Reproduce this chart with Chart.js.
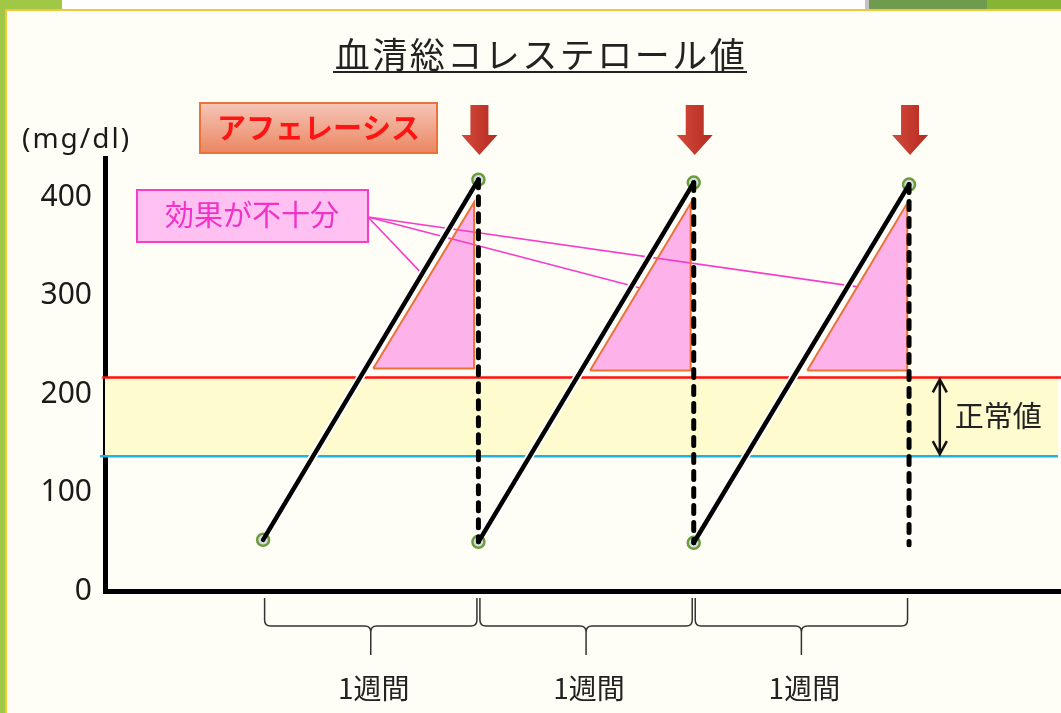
<!DOCTYPE html>
<html>
<head>
<meta charset="utf-8">
<script src="https://cdn.jsdelivr.net/npm/chart.js@4.4.1/dist/chart.umd.min.js"></script>
<style>
  html, body { margin: 0; padding: 0; background: #fefef6; overflow: hidden; }
  #wrap { width: 1061px; height: 713px; position: relative; }
</style>
</head>
<body>
<div id="wrap"><canvas id="c" width="1061" height="713"></canvas></div>
<script>
// Serum total cholesterol (mg/dl) across three weekly apheresis cycles
const weekDays = [0, 7, 14, 21];            // apheresis days
const troughValues = [52, 50, 49, 47];      // value right after each apheresis
const peakValues = [418, 415, 413];         // value just before the next apheresis
const yTicks = [0, 100, 200, 300, 400];
const normalUpper = 217;                    // upper limit of the normal range
const normalLower = 137;                    // lower limit of the normal range
// "insufficient effect" triangles (day / mg/dl)
const gapLeft = [3.58, 10.63, 17.69];
const gapRight = [6.86, 13.9, 20.94];
const gapBottom = [226, 224, 224];
const gapTop = [395, 394, 394];
const calloutTargets = [[5.27, 319], [12.26, 308], [19.34, 309]];
const weekLabels = ['1週間', '1週間', '1週間'];
const rangeArrowDay = 22;

const X_MIN = -5.14, X_MAX = 25.94;

// rising segments, separated by gaps
const riseData = [];
for (let i = 0; i < peakValues.length; i++) {
  if (i) riseData.push({ x: weekDays[i], y: null });
  riseData.push({ x: weekDays[i], y: troughValues[i] }, { x: weekDays[i + 1], y: peakValues[i] });
}
// drops at each apheresis
const dropData = [];
for (let i = 0; i < peakValues.length; i++) {
  if (i) dropData.push({ x: weekDays[i + 1], y: null });
  dropData.push({ x: weekDays[i + 1], y: peakValues[i] }, { x: weekDays[i + 1], y: troughValues[i + 1] });
}
// measured points
const markerData = [];
for (let i = 0; i < peakValues.length; i++) {
  markerData.push({ x: weekDays[i], y: troughValues[i] }, { x: weekDays[i + 1], y: peakValues[i] });
}

const triangleSets = gapLeft.map((l, i) => ({
  data: [
    { x: l, y: gapBottom[i] }, { x: gapRight[i], y: gapBottom[i] },
    { x: gapRight[i], y: gapTop[i] }, { x: l, y: gapBottom[i] }
  ],
  borderColor: '#ea7235', borderWidth: 2, backgroundColor: '#fdb3e9',
  fill: 'shape', pointRadius: 0, tension: 0, order: 8
}));

const CJK = "'Noto Sans CJK JP', 'Noto Sans', sans-serif";

function brace(ctx, x1, x2, top) {
  const mid = (x1 + x2) / 2, yH = top + 28, yTip = top + 57, r = 6;
  ctx.beginPath();
  ctx.moveTo(x1, top);
  ctx.lineTo(x1, yH - r);
  ctx.quadraticCurveTo(x1, yH, x1 + r, yH);
  ctx.lineTo(mid - r, yH);
  ctx.quadraticCurveTo(mid, yH, mid, yH + r);
  ctx.lineTo(mid, yTip);
  ctx.moveTo(mid, yH + r);
  ctx.quadraticCurveTo(mid, yH, mid + r, yH);
  ctx.lineTo(x2 - r, yH);
  ctx.quadraticCurveTo(x2, yH, x2, yH - r);
  ctx.lineTo(x2, top);
  ctx.stroke();
}

const decor = {
  id: 'decor',
  beforeDraw(chart) {
    const ctx = chart.ctx, W = chart.width, H = chart.height;
    ctx.save();
    ctx.fillStyle = '#fefef6'; ctx.fillRect(0, 0, W, H);
    ctx.fillStyle = '#a1c746'; ctx.fillRect(0, 0, 62, 10);
    ctx.fillStyle = '#ffffff'; ctx.fillRect(62, 0, 803, 10);
    ctx.fillStyle = '#c4c4c4'; ctx.fillRect(865, 0, 4, 10);
    ctx.fillStyle = '#6f9b4e'; ctx.fillRect(869, 0, 118, 10);
    ctx.fillStyle = '#86b434'; ctx.fillRect(987, 0, 74, 10);
    ctx.fillStyle = '#a1c746'; ctx.fillRect(0, 0, 5, H);
    ctx.fillStyle = '#f4c63a';
    ctx.fillRect(5, 9, W - 5, 2);
    ctx.fillRect(5, 9, 2, H - 9);
    ctx.restore();
  },
  beforeDatasetsDraw(chart) {
    // callout leader lines
    const ctx = chart.ctx, xs = chart.scales.x, ys = chart.scales.y;
    ctx.save();
    ctx.strokeStyle = '#f53ccc';
    ctx.lineWidth = 1.6;
    calloutTargets.forEach(([d, v]) => {
      ctx.beginPath();
      ctx.moveTo(368, 217);
      ctx.lineTo(xs.getPixelForValue(d), ys.getPixelForValue(v));
      ctx.stroke();
    });
    ctx.restore();
  },
  afterDraw(chart) {
    const ctx = chart.ctx, xs = chart.scales.x, ys = chart.scales.y;
    ctx.save();

    // title
    ctx.fillStyle = '#222';
    ctx.font = `35px ${CJK}`;
    ctx.textAlign = 'center';
    ctx.textBaseline = 'middle';
    ctx.letterSpacing = '2.5px';
    ctx.fillText('血清総コレステロール値', 541, 55);
    ctx.letterSpacing = '0px';
    ctx.fillRect(333, 71, 414, 2);

    // unit
    ctx.fillStyle = '#1a1a1a';
    ctx.font = "28px 'Noto Sans', sans-serif";
    ctx.textAlign = 'left';
    ctx.letterSpacing = '2px';
    ctx.fillText('(mg/dl)', 22, 140);
    ctx.letterSpacing = '0px';

    // apheresis label box
    const g = ctx.createLinearGradient(0, 103, 0, 153);
    g.addColorStop(0, '#f5c6b8');
    g.addColorStop(1, '#eb8660');
    ctx.fillStyle = g;
    ctx.fillRect(200, 103, 237, 50);
    ctx.strokeStyle = '#e8743c';
    ctx.lineWidth = 2;
    ctx.strokeRect(200, 103, 237, 50);
    ctx.fillStyle = '#ff1414';
    ctx.font = `bold 29px ${CJK}`;
    ctx.textAlign = 'center';
    ctx.fillText('アフェレーシス', 318.5, 128);

    // apheresis arrows
    weekDays.slice(1).forEach(d => {
      const cx = xs.getPixelForValue(d) + 1;
      const ag = ctx.createLinearGradient(cx - 18, 0, cx + 18, 0);
      ag.addColorStop(0, '#d34a3c');
      ag.addColorStop(1, '#b52a1f');
      ctx.fillStyle = ag;
      ctx.beginPath();
      ctx.moveTo(cx - 9, 105); ctx.lineTo(cx + 9, 105); ctx.lineTo(cx + 9, 135);
      ctx.lineTo(cx + 18, 135); ctx.lineTo(cx, 155); ctx.lineTo(cx - 18, 135);
      ctx.lineTo(cx - 9, 135); ctx.closePath();
      ctx.fill();
    });

    // callout box
    ctx.fillStyle = '#ffc1f1';
    ctx.fillRect(137, 190, 231, 52);
    ctx.strokeStyle = '#f53ccc';
    ctx.lineWidth = 2;
    ctx.strokeRect(137, 190, 231, 52);
    ctx.fillStyle = '#f032c8';
    ctx.font = `29px ${CJK}`;
    ctx.fillText('効果が不十分', 252, 215);

    // normal range arrow
    const ax = xs.getPixelForValue(rangeArrowDay);
    const yTop = ys.getPixelForValue(normalUpper) + 2;
    const yBot = ys.getPixelForValue(normalLower) - 2;
    ctx.strokeStyle = '#111';
    ctx.lineWidth = 2.5;
    ctx.beginPath();
    ctx.moveTo(ax, yTop); ctx.lineTo(ax, yBot);
    ctx.moveTo(ax - 7, yTop + 13); ctx.lineTo(ax, yTop); ctx.lineTo(ax + 7, yTop + 13);
    ctx.moveTo(ax - 7, yBot - 13); ctx.lineTo(ax, yBot); ctx.lineTo(ax + 7, yBot - 13);
    ctx.stroke();
    ctx.fillStyle = '#222';
    ctx.font = `29px ${CJK}`;
    ctx.textAlign = 'left';
    ctx.fillText('正常値', ax + 15, 416);

    // week braces
    ctx.strokeStyle = '#333';
    ctx.lineWidth = 1.5;
    ctx.fillStyle = '#222';
    ctx.font = `28px ${CJK}`;
    ctx.textAlign = 'center';
    for (let i = 0; i < weekLabels.length; i++) {
      const x1 = xs.getPixelForValue(weekDays[i]) + 1.5;
      const x2 = xs.getPixelForValue(weekDays[i + 1]) - 1.5;
      brace(ctx, x1, x2, 598);
      ctx.fillText(weekLabels[i], (x1 + x2) / 2 + 3, 688);
    }
    ctx.restore();
  }
};

new Chart(document.getElementById('c'), {
  type: 'line',
  data: {
    datasets: [
      { // lower limit of normal range
        data: [{ x: -5.3, y: normalLower }, { x: 25.84, y: normalLower }],
        borderColor: '#1fb0e6', borderWidth: 2.5, pointRadius: 0, fill: false, clip: false, order: 10
      },
      { // upper limit of normal range, band filled down to the lower limit
        data: [{ x: -5.23, y: normalUpper }, { x: X_MAX, y: normalUpper }],
        borderColor: '#ff1010', borderWidth: 2.5, pointRadius: 0, clip: false,
        fill: { target: 0 }, backgroundColor: '#fefbcf', order: 9
      },
      ...triangleSets,
      { // white halo under rising lines
        data: riseData, borderColor: '#ffffff', borderWidth: 8, pointRadius: 0,
        spanGaps: false, fill: false, order: 7.5
      },
      { // measured points
        data: markerData, showLine: false, pointRadius: 6, pointBorderWidth: 2.5,
        pointBorderColor: '#6b9c3c', pointBackgroundColor: '#d6dce4', order: 7
      },
      { // drop at apheresis
        data: dropData, borderColor: '#000', borderWidth: 5, borderDash: [8, 9],
        borderCapStyle: 'round', pointRadius: 0, spanGaps: false, fill: false, order: 6
      },
      { // rise between apheresis sessions
        data: riseData, borderColor: '#000', borderWidth: 4.5, borderCapStyle: 'round',
        pointRadius: 0, spanGaps: false, fill: false, order: 5
      }
    ]
  },
  options: {
    responsive: false,
    animation: false,
    devicePixelRatio: 1,
    layout: { autoPadding: false, padding: { top: 158, bottom: 122, left: 0, right: 0 } },
    plugins: {
      legend: { display: false },
      tooltip: { enabled: false },
      filler: { drawTime: 'beforeDatasetsDraw' }
    },
    elements: { line: { tension: 0 } },
    scales: {
      x: {
        type: 'linear', min: X_MIN, max: X_MAX,
        ticks: { display: false },
        grid: { color: 'transparent', drawTicks: false },
        border: { color: '#000', width: 5 },
        afterFit(s) { s.height = 0; }
      },
      y: {
        min: 0, max: 440,
        afterBuildTicks(s) { s.ticks = yTicks.map(v => ({ value: v })); },
        ticks: { font: { family: "'Noto Sans', sans-serif", size: 30 }, color: '#1a1a1a', padding: 13 },
        grid: { color: 'transparent', drawTicks: false },
        border: { color: '#000', width: 5 },
        afterFit(s) { s.width = 105; }
      }
    }
  },
  plugins: [decor]
});
</script>
</body>
</html>
